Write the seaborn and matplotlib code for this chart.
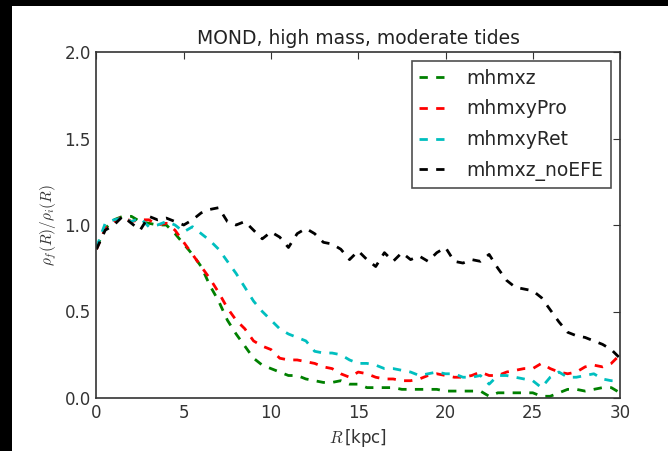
import numpy as np
import pandas as pd
import matplotlib
matplotlib.use("Agg")
import matplotlib.pyplot as plt
import seaborn as sns
from matplotlib.patches import Rectangle

R = [i * 0.5 for i in range(61)]

mhmxz = [0.87, 0.98, 1.03, 1.05, 1.05, 1.02, 1.01, 1.00, 1.00, 0.95,
         0.89, 0.83, 0.76, 0.65, 0.56, 0.45, 0.37, 0.30, 0.23, 0.19,
         0.17, 0.15, 0.13, 0.13, 0.11, 0.10, 0.09, 0.09, 0.10, 0.08,
         0.08, 0.06, 0.06, 0.06, 0.06, 0.05, 0.05, 0.05, 0.05, 0.05,
         0.04, 0.04, 0.04, 0.04, 0.04, 0.01, 0.03, 0.03, 0.03, 0.03,
         0.03, 0.01, 0.01, 0.03, 0.05, 0.05, 0.04, 0.05, 0.06, 0.06, 0.03]

mhmxyPro = [0.86, 0.98, 1.02, 1.05, 1.02, 1.03, 1.03, 1.00, 1.01, 0.97,
            0.90, 0.83, 0.76, 0.69, 0.61, 0.52, 0.45, 0.40, 0.33, 0.30,
            0.28, 0.23, 0.22, 0.22, 0.21, 0.20, 0.18, 0.17, 0.14, 0.12,
            0.15, 0.14, 0.12, 0.11, 0.11, 0.10, 0.10, 0.11, 0.13, 0.14,
            0.13, 0.12, 0.12, 0.13, 0.15, 0.13, 0.13, 0.15, 0.16, 0.17,
            0.17, 0.20, 0.17, 0.15, 0.14, 0.15, 0.18, 0.19, 0.18, 0.20, 0.25]

mhmxyRet = [0.87, 1.01, 1.03, 1.04, 1.02, 1.04, 0.99, 1.00, 1.02, 1.00,
            0.96, 0.99, 0.95, 0.91, 0.86, 0.79, 0.72, 0.64, 0.56, 0.50,
            0.45, 0.40, 0.37, 0.35, 0.33, 0.27, 0.26, 0.26, 0.25, 0.22,
            0.20, 0.20, 0.19, 0.17, 0.17, 0.16, 0.15, 0.13, 0.14, 0.15,
            0.14, 0.14, 0.12, 0.12, 0.13, 0.08, 0.13, 0.13, 0.12, 0.11,
            0.10, 0.06, 0.12, 0.15, 0.12, 0.12, 0.13, 0.14, 0.11, 0.10, 0.10]

mhmxz_noEFE = [0.86, 0.97, 1.00, 1.05, 1.01, 0.97, 1.05, 1.03, 1.04, 1.02,
               1.00, 1.03, 1.07, 1.09, 1.10, 1.02, 1.00, 1.02, 0.97, 0.92,
               0.96, 0.93, 0.87, 0.95, 0.98, 0.95, 0.90, 0.89, 0.86, 0.80,
               0.85, 0.80, 0.76, 0.84, 0.79, 0.84, 0.80, 0.82, 0.79, 0.84,
               0.87, 0.79, 0.78, 0.80, 0.79, 0.83, 0.75, 0.68, 0.64, 0.63,
               0.62, 0.58, 0.51, 0.44, 0.38, 0.36, 0.35, 0.33, 0.31, 0.28, 0.23]

series_names = ["mhmxz", "mhmxyPro", "mhmxyRet", "mhmxz_noEFE"]
series_values = [mhmxz, mhmxyPro, mhmxyRet, mhmxz_noEFE]
colors = ["#008000", "#ff0000", "#00bfbf", "#000000"]

title = "MOND, high mass, moderate tides"
xticks = [0, 5, 10, 15, 20, 25, 30]
yticks = [0.0, 0.5, 1.0, 1.5, 2.0]

sns.set_style("white")
plt.rcParams['font.family'] = ['DejaVu Sans']
plt.rcParams['mathtext.fontset'] = 'cm'

fig = plt.figure(figsize=(6.68, 4.51), dpi=100, facecolor='black')
fig.patches.append(Rectangle((12 / 668, 0), 1, 1 - 6 / 451, transform=fig.transFigure,
                             facecolor='white', edgecolor='none', zorder=-10))
ax = fig.add_axes([96.5 / 668, 1 - 398 / 451, (620 - 96.5) / 668, (398 - 52) / 451])

for name, vals, c in zip(series_names, series_values, colors):
    df = pd.DataFrame({"R": R, "v": vals})
    sns.lineplot(data=df, x="R", y="v", ax=ax, color=c, linewidth=2,
                 linestyle=(0, (3, 3)), label=name)

ax.set_xlim(0, 30)
ax.set_ylim(0, 2.0)
ax.set_xticks(xticks)
ax.set_xticklabels([str(t) for t in xticks])
ax.set_yticks(yticks)
ax.set_yticklabels([f"{t:.1f}" for t in yticks])
ax.tick_params(direction='in', length=5, width=0.8, top=True, right=True,
               labelsize=12, colors='#333333', pad=4)
ax.tick_params(labelcolor='#333333')
for s in ax.spines.values():
    s.set_color('#333333')
    s.set_linewidth(1.2)

ax.set_title(title, fontsize=13.5, color='#222222', pad=6)
ax.set_xlabel(r"$R\,$[kpc]", fontsize=12, color='#333333')
ax.set_ylabel(r"$\rho_f(R)/\rho_i(R)$", fontsize=11, color='#333333')

leg = ax.legend(loc='upper right', fontsize=13.5, frameon=True, fancybox=False,
                handlelength=1.4, borderaxespad=0.5, labelspacing=0.62,
                borderpad=0.4, handletextpad=1.1)
leg.get_frame().set_edgecolor('#222222')
leg.get_frame().set_linewidth(1.2)

fig.savefig("out.png", dpi=100, facecolor=fig.get_facecolor())
